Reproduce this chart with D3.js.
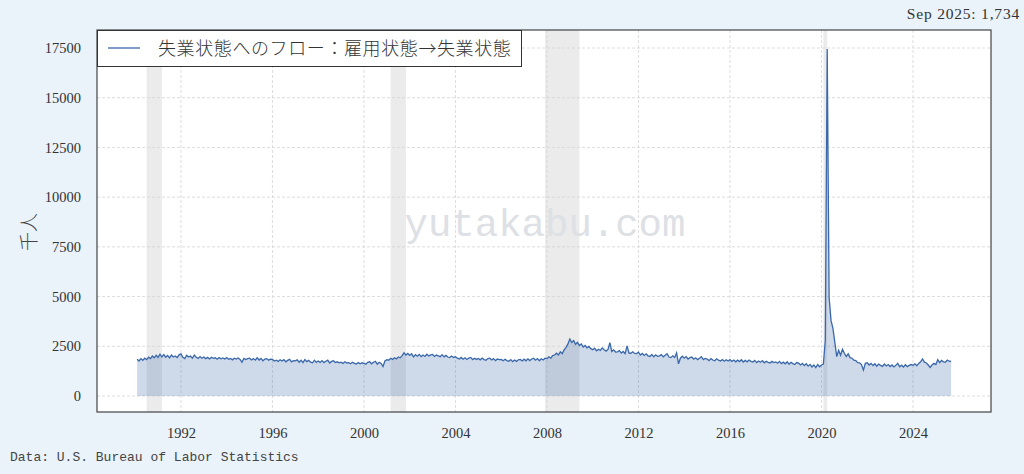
<!DOCTYPE html>
<html>
<head>
<meta charset="utf-8">
<script src="https://cdn.jsdelivr.net/npm/d3@7"></script>
<style>
  body { margin: 0; background: #eaf2fa; }
  svg { display: block; }
</style>
</head>
<body>
<div id="vis"></div>
<script>
const FRAME_WIDTH = 1024;
const FRAME_HEIGHT = 474;
const PLOT = { left: 97, right: 991, top: 30, bottom: 412 };

// series starts Feb 1990
const START_YEAR = 1990;
const START_MONTH = 1;
// E -> U flows, thousands, one row per year
const VALUES_BY_YEAR = [
  [1850, 1760, 1880, 1790, 1900, 1830, 1950, 1880, 2010, 1920, 2050],
  [1940, 2100, 1960, 2080, 1950, 2040, 1920, 2060, 1960, 2010, 1930, 2070],
  [2120, 1950, 1880, 2050, 1960, 2010, 1900, 2060, 1950, 1890, 1980, 1900],
  [1960, 1880, 1940, 1860, 1950, 1890, 1920, 1850, 1930, 1870, 1910, 1860],
  [1930, 1850, 1890, 1820, 1900, 1860, 1910, 1840, 1700, 1890, 1830, 1880],
  [1900, 1810, 1880, 1800, 1920, 1810, 1890, 1770, 1860, 1880, 1800, 1850],
  [1840, 1760, 1800, 1740, 1820, 1760, 1830, 1720, 1790, 1840, 1720, 1780],
  [1770, 1820, 1700, 1800, 1680, 1830, 1730, 1790, 1700, 1670, 1800, 1690],
  [1760, 1690, 1780, 1680, 1750, 1800, 1660, 1740, 1770, 1680, 1720, 1670],
  [1700, 1640, 1720, 1660, 1680, 1620, 1700, 1640, 1610, 1680, 1620, 1670],
  [1640, 1600, 1690, 1720, 1620, 1700, 1740, 1600, 1690, 1640, 1480, 1760],
  [1830, 1800, 1900, 1840, 1920, 1860, 1960, 1920, 2030, 2170, 2060, 2140],
  [2040, 2120, 1970, 2080, 2000, 2090, 1980, 2060, 1990, 2100, 2010, 2070],
  [2090, 1990, 2060, 2020, 1980, 2080, 1970, 2040, 1960, 1930, 2010, 1940],
  [1970, 1900, 1860, 1940, 1850, 1920, 1840, 1910, 1940, 1830, 1900, 1840],
  [1890, 1820, 1910, 1830, 1800, 1880, 1900, 1810, 1880, 1780, 1860, 1830],
  [1840, 1770, 1850, 1780, 1750, 1830, 1730, 1810, 1740, 1820, 1840, 1760],
  [1850, 1770, 1870, 1780, 1860, 1900, 1800, 1880, 1770, 1870, 1810, 1900],
  [1880, 1970, 1900, 2030, 2060, 2150, 2060, 2220, 2130, 2320, 2450, 2620],
  [2860, 2690, 2790, 2600, 2700, 2540, 2620, 2460, 2540, 2420, 2490, 2380],
  [2330, 2400, 2270, 2350, 2290, 2420, 2330, 2260, 2340, 2680, 2240, 2320],
  [2210, 2220, 2280, 2160, 2240, 2130, 2520, 2160, 2150, 2220, 2140, 2130],
  [2200, 2060, 2140, 2040, 2120, 2020, 1990, 2090, 1970, 2070, 2000, 2020],
  [2080, 1970, 2050, 2130, 1960, 1930, 2020, 1940, 2170, 1620, 1900, 2000],
  [1900, 1980, 1860, 1930, 1960, 1850, 1920, 1830, 1900, 1980, 1830, 1890],
  [1860, 1780, 1880, 1810, 1770, 1870, 1800, 1760, 1830, 1750, 1820, 1760],
  [1830, 1740, 1810, 1720, 1800, 1730, 1820, 1710, 1790, 1720, 1810, 1740],
  [1710, 1790, 1680, 1760, 1700, 1780, 1670, 1750, 1690, 1660, 1740, 1680],
  [1710, 1650, 1740, 1630, 1700, 1620, 1720, 1600, 1690, 1630, 1580, 1680],
  [1650, 1560, 1640, 1530, 1620, 1500, 1590, 1460, 1560, 1430, 1580, 1470],
  [1560, 1600, 2800, 17450, 4950, 3800, 3400, 2700, 1980, 2300, 2050, 2350],
  [2150, 1980, 2120, 1930, 1900, 1800, 1780, 1680, 1670, 1580, 1300, 1640],
  [1670, 1560, 1640, 1530, 1620, 1500, 1600, 1540, 1490, 1610, 1510, 1580],
  [1480, 1560, 1460, 1540, 1640, 1470, 1550, 1460, 1570, 1480, 1540, 1580],
  [1540, 1620, 1520, 1640, 1720, 1860, 1700, 1660, 1560, 1440, 1560, 1640],
  [1580, 1830, 1680, 1790, 1720, 1700, 1810, 1750, 1734]
];

const RECESSIONS = [
  ['1990-07', '1991-03'],
  ['2001-03', '2001-11'],
  ['2007-12', '2009-06'],
  ['2020-02', '2020-04']
];

const X_TICKS = [1992, 1996, 2000, 2004, 2008, 2012, 2016, 2020, 2024];
const Y_TICKS = [0, 2500, 5000, 7500, 10000, 12500, 15000, 17500];

const SERIES_NAME = '失業状態へのフロー：雇用状態→失業状態';
const LATEST_LABEL = 'Sep 2025: 1,734';
const SOURCE_LABEL = 'Data: U.S. Bureau of Labor Statistics';

// flatten to {t: decimal year, v: value}
const data = [];
VALUES_BY_YEAR.forEach((row, i) => {
  const offset = i === 0 ? START_MONTH : 0;
  row.forEach((v, m) => data.push({ t: START_YEAR + i + (m + offset) / 12, v: v }));
});

function toDecimal(ym) {
  const [y, m] = ym.split('-').map(Number);
  return y + (m - 1) / 12;
}

const svg = d3.select('#vis')
  .append('svg')
  .attr('width', FRAME_WIDTH)
  .attr('height', FRAME_HEIGHT);

svg.append('rect')
  .attr('width', FRAME_WIDTH)
  .attr('height', FRAME_HEIGHT)
  .attr('fill', '#eaf2fa');

const X_SCALE = d3.scaleLinear()
  .domain([1988.33, 2027.41])
  .range([PLOT.left, PLOT.right]);

const Y_SCALE = d3.scaleLinear()
  .domain([-805, 18405])
  .range([PLOT.bottom, PLOT.top]);

// plot background
svg.append('rect')
  .attr('x', PLOT.left)
  .attr('y', PLOT.top)
  .attr('width', PLOT.right - PLOT.left)
  .attr('height', PLOT.bottom - PLOT.top)
  .attr('fill', '#ffffff');

// recession shading
svg.selectAll('.rec')
  .data(RECESSIONS)
  .enter()
  .append('rect')
  .attr('class', 'rec')
  .attr('x', (d) => X_SCALE(toDecimal(d[0])))
  .attr('width', (d) => X_SCALE(toDecimal(d[1])) - X_SCALE(toDecimal(d[0])))
  .attr('y', PLOT.top)
  .attr('height', PLOT.bottom - PLOT.top)
  .attr('fill', '#ebebeb');

// grid
svg.append('g')
  .selectAll('line')
  .data(Y_TICKS)
  .enter()
  .append('line')
  .attr('x1', PLOT.left)
  .attr('x2', PLOT.right)
  .attr('y1', (d) => Y_SCALE(d))
  .attr('y2', (d) => Y_SCALE(d))
  .attr('stroke', '#d4d4d4')
  .attr('stroke-width', 0.8)
  .attr('stroke-dasharray', '3,2');

svg.append('g')
  .selectAll('line')
  .data(X_TICKS)
  .enter()
  .append('line')
  .attr('y1', PLOT.top)
  .attr('y2', PLOT.bottom)
  .attr('x1', (d) => X_SCALE(d))
  .attr('x2', (d) => X_SCALE(d))
  .attr('stroke', '#d4d4d4')
  .attr('stroke-width', 0.8)
  .attr('stroke-dasharray', '3,2');

// watermark
svg.append('text')
  .attr('x', 545)
  .attr('y', 236)
  .attr('text-anchor', 'middle')
  .attr('font-family', '"Liberation Mono", monospace')
  .attr('font-size', 39)
  .attr('fill', '#dde0e4')
  .text('yutakabu.com');

// area + line
const area = d3.area()
  .x((d) => X_SCALE(d.t))
  .y0(Y_SCALE(0))
  .y1((d) => Y_SCALE(d.v));

const line = d3.line()
  .x((d) => X_SCALE(d.t))
  .y((d) => Y_SCALE(d.v));

svg.append('path')
  .datum(data)
  .attr('d', area)
  .attr('fill', '#3a68aa')
  .attr('fill-opacity', 0.25);

svg.append('path')
  .datum(data)
  .attr('d', line)
  .attr('fill', 'none')
  .attr('stroke', '#3a68aa')
  .attr('stroke-width', 1.3);

// frame
svg.append('rect')
  .attr('x', PLOT.left)
  .attr('y', PLOT.top)
  .attr('width', PLOT.right - PLOT.left)
  .attr('height', PLOT.bottom - PLOT.top)
  .attr('fill', 'none')
  .attr('stroke', '#444')
  .attr('stroke-width', 1.2);

// axes
const xAxis = svg.append('g')
  .attr('transform', 'translate(0,' + PLOT.bottom + ')')
  .call(d3.axisBottom(X_SCALE).tickValues(X_TICKS).tickFormat(d3.format('d')).tickSize(0).tickPadding(16));

const yAxis = svg.append('g')
  .attr('transform', 'translate(' + PLOT.left + ',0)')
  .call(d3.axisLeft(Y_SCALE).tickValues(Y_TICKS).tickFormat(d3.format('d')).tickSize(0).tickPadding(16));

[xAxis, yAxis].forEach((g) => {
  g.select('.domain').remove();
  g.selectAll('text')
    .attr('font-family', '"Liberation Serif", serif')
    .attr('font-size', 14.5)
    .attr('fill', '#333');
});

// y label
svg.append('text')
  .attr('transform', 'translate(36,232) rotate(-90)')
  .attr('text-anchor', 'middle')
  .attr('font-family', '"Noto Sans CJK JP", sans-serif')
  .attr('font-weight', 300)
  .attr('font-size', 19)
  .attr('fill', '#444')
  .text('千人');

// legend
const legend = svg.append('g');
legend.append('rect')
  .attr('x', PLOT.left + 0.5)
  .attr('y', PLOT.top + 0.5)
  .attr('width', 424)
  .attr('height', 36)
  .attr('fill', '#ffffff')
  .attr('stroke', '#333')
  .attr('stroke-width', 1);
legend.append('line')
  .attr('x1', 108)
  .attr('x2', 140)
  .attr('y1', 48)
  .attr('y2', 48)
  .attr('stroke', '#3a68aa')
  .attr('stroke-width', 1.3);
legend.append('text')
  .attr('x', 158)
  .attr('y', 55)
  .attr('font-family', '"Noto Sans CJK JP", sans-serif')
  .attr('font-weight', 300)
  .attr('font-size', 18)
  .attr('letter-spacing', 0.6)
  .attr('fill', '#333')
  .text(SERIES_NAME);

// latest value
svg.append('text')
  .attr('x', 1020)
  .attr('y', 19)
  .attr('text-anchor', 'end')
  .attr('font-family', '"Liberation Serif", serif')
  .attr('font-size', 15.5)
  .attr('letter-spacing', 0.8)
  .attr('fill', '#333')
  .text(LATEST_LABEL);

// source
svg.append('text')
  .attr('x', 10)
  .attr('y', 461)
  .attr('font-family', '"Liberation Mono", monospace')
  .attr('font-size', 13)
  .attr('fill', '#444')
  .text(SOURCE_LABEL);
</script>
</body>
</html>
